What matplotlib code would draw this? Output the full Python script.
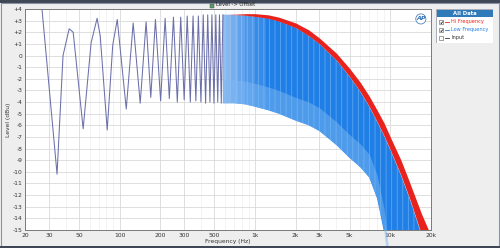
import numpy as np
import matplotlib
matplotlib.use("Agg")
import matplotlib.pyplot as plt
from matplotlib.patches import Rectangle

# ---------------- data ----------------
# resolvable low-frequency comb (peaks / troughs), Hz and dB
comb_freq = [20, 26.7, 34.5, 38.2, 42.4, 45.4, 53.8, 61.6, 68.2, 71.9, 81, 89, 96.1,
             112, 126, 142, 157, 170, 184, 201, 217, 233, 250, 267, 283, 300, 316,
             333, 349, 366, 382, 399, 415, 432, 448, 465, 481, 498, 514, 531, 547,
             564, 580]
comb_level = [8, 4, -10.2, 0, 2.3, 2.0, -6.3, 1.1, 3.2, 1.7, -6.4, 0.9, 3.1,
              -4.6, 2.8, -4.1, 2.9, -3.6, 3.1, -3.9, 3.2, -3.7, 3.3, -4.0, 3.3, -3.8, 3.4,
              -4.0, 3.4, -3.9, 3.4, -4.0, 3.5, -4.1, 3.5, -4.0, 3.5, -4.1, 3.5, -4.0, 3.5,
              -4.1, 3.5]

# dense region envelopes
dense_freq = [580, 700, 850, 1000, 1250, 1500, 2000, 2500, 3000, 4000, 5000, 6000,
              7000, 8000, 9000, 10000, 12000, 14000, 17000, 20000]
hi_top = [3.5, 3.55, 3.6, 3.6, 3.5, 3.3, 2.8, 2.2, 1.5, 0.2, -1.1, -2.3,
          -3.5, -4.7, -5.8, -7.0, -9.0, -11.0, -13.6, -15.5]
low_top = [3.5, 3.5, 3.45, 3.35, 3.2, 2.95, 2.4, 1.7, 1.0, -0.4, -1.8, -3.1,
           -4.4, -5.7, -6.9, -8.1, -10.3, -12.4, -15.4, -17.0]
low_bottom = [-4.1, -4.1, -4.2, -4.4, -4.7, -5.0, -5.6, -6.0, -6.5, -7.7, -8.8, -9.6,
              -10.5, -12.3, -15.2, -20, -20, -20, -20, -20]

x_ticks = [20, 30, 50, 100, 200, 300, 500, 1000, 2000, 3000, 5000, 10000, 20000]
x_ticklabels = ["20", "30", "50", "100", "200", "300", "500", "1k", "2k", "3k", "5k", "10k", "20k"]
y_ticks = list(range(-15, 5))
y_ticklabels = [("+%d" % v if v > 0 else "%d" % v) for v in y_ticks]

series_names = ["Hi Frequency", "Low Frequency", "Input"]
series_colors = ["#e8221c", "#1f7fe6", "#333333"]
series_checked = [True, True, False]

# ---------------- figure ----------------
W, H = 500, 248
fig = plt.figure(figsize=(W / 100, H / 100), dpi=100)
fig.patch.set_facecolor("#eeeeee")
plt.rcParams["hatch.linewidth"] = 0.6

def fx(px):
    return px / W

def fy(py):
    return 1 - py / H

# frame decorations
fig.add_artist(Rectangle((0, fy(3)), 1, 3 / H, transform=fig.transFigure,
                         facecolor="#3f4656", edgecolor="none"))
fig.add_artist(Rectangle((0.002, 0.004), 0.996, fy(3) - 0.006, transform=fig.transFigure,
                         facecolor="none", edgecolor="#8a93a6", lw=0.8))
fig.add_artist(Rectangle((0, 0), 1, 2 / H, transform=fig.transFigure,
                         facecolor="#3f4656", edgecolor="none"))

ax = fig.add_axes([fx(25), fy(230), fx(431) - fx(25), fy(9) - fy(230)])
ax.set_facecolor("white")
ax.set_xscale("log")
ax.set_xlim(20, 20000)
ax.set_ylim(-15, 4)

# grid
ax.set_xticks(x_ticks)
ax.set_xticklabels(x_ticklabels)
ax.set_yticks(y_ticks)
ax.set_yticklabels(y_ticklabels)
ax.xaxis.set_minor_locator(matplotlib.ticker.LogLocator(base=10, subs=np.arange(2, 10)))
ax.xaxis.set_minor_formatter(matplotlib.ticker.NullFormatter())
ax.grid(True, which="major", color="#d9d9d9", lw=0.6)
ax.grid(True, which="minor", axis="x", color="#efefef", lw=0.5)
ax.set_axisbelow(True)
ax.tick_params(which="both", length=0, labelsize=4.3, colors="#333333", pad=2)
for s in ax.spines.values():
    s.set_color("#7a7a7a")
    s.set_linewidth(0.7)

# dense region: blue fill with red top band
blue_poly = ax.fill_between(dense_freq, low_bottom, low_top, color=series_colors[1],
                            lw=0, zorder=2)
ax.fill_between(dense_freq, low_top, hi_top, color=series_colors[0], lw=0, zorder=2)
clip_path = blue_poly.get_paths()[0]

# streaky texture of the many overlapping traces
streaks = ax.fill_between(dense_freq, low_bottom, low_top, facecolor="none",
                          edgecolor="#6cb0f2", hatch="|||", lw=0, zorder=3, alpha=0.8)
streaks.set_clip_path(clip_path, ax.transData)

for (a, b, al) in [(560, 650, 0.55), (650, 750, 0.45), (750, 850, 0.35),
                   (850, 1000, 0.24), (1000, 1200, 0.12)]:
    sp = ax.axvspan(a, b, color="#dfe6f8", alpha=al, lw=0, zorder=3)
    sp.set_clip_path(clip_path, ax.transData)
# lighter lower part of the blue area
lighter = ax.fill_between(dense_freq, low_bottom, [v + 2.0 for v in low_bottom],
                          color="#7db8f2", lw=0, alpha=0.5, zorder=3)
lighter.set_clip_path(clip_path, ax.transData)

# resolvable comb lines (hi + low overlapping)
ax.plot(comb_freq, comb_level, color="#6b70aa", lw=0.75, zorder=4, clip_on=True)

ax.set_xlabel("Frequency (Hz)", fontsize=4.3, color="#333333", labelpad=1)
ax.set_ylabel("Level (dBu)", fontsize=4.3, color="#333333", labelpad=1)

# AP logo
ax.text(0.975, 0.955, "AP", transform=ax.transAxes, fontsize=4.5, color="#2f6fb5",
        fontweight="bold", fontstyle="italic", ha="center", va="center", zorder=6,
        bbox=dict(boxstyle="circle,pad=0.05", fc="white", ec="#2f6fb5", lw=0.5))

# title
fig.add_artist(Rectangle((fx(210), fy(7.5)), 4 / W, 4 / H, transform=fig.transFigure,
                         facecolor="#5c9a66", edgecolor="#444444", lw=0.3))
fig.text(fx(216), fy(4.8), "Level -> Offset", fontsize=3.8, color="#222222",
         ha="left", va="center")

# legend panel
lax = fig.add_axes([fx(436), fy(43), fx(493) - fx(436), fy(9) - fy(43)])
lax.set_xlim(0, 57)
lax.set_ylim(34, 0)
lax.axis("off")
lax.add_patch(Rectangle((0, 0), 57, 34, facecolor="white", edgecolor="#9aa3b0", lw=0.6))
lax.add_patch(Rectangle((0.5, 0.5), 56, 7.5, facecolor="#2f7ab9", edgecolor="none"))
lax.text(28.5, 4.3, "All Data", fontsize=3.8, color="white", fontweight="bold",
         ha="center", va="center")
for i, (name, col, chk) in enumerate(zip(series_names, series_colors, series_checked)):
    yc = 13 + i * 8
    lax.add_patch(Rectangle((3, yc - 2), 4, 4, facecolor="white", edgecolor="#555555", lw=0.4))
    if chk:
        lax.text(5, yc, "\u2714", fontsize=3.5, color="#111111", ha="center", va="center")
    lax.plot([9, 13], [yc, yc], color=col, lw=0.6)
    lax.text(15, yc, name, fontsize=3.6, color=col, ha="left", va="center")

fig.savefig("out.png", dpi=100, facecolor=fig.get_facecolor())
